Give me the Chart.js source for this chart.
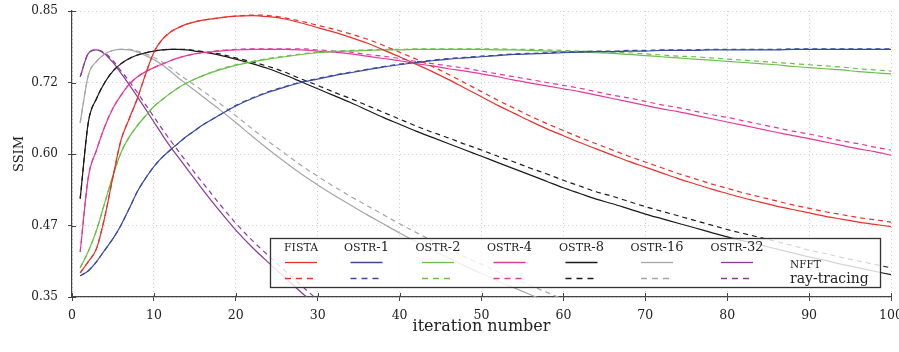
<!DOCTYPE html>
<html><head><meta charset="utf-8">
<script src="https://cdn.jsdelivr.net/npm/chart.js@4"></script>
<style>html,body{margin:0;padding:0;background:#fff;}canvas{display:block}</style>
</head><body>
<canvas id="c" width="899" height="352"></canvas>
<script>
const iterations = [1,2,3,4,5,6,7,8,9,10,11,12,13,14,15,16,18,20,22,24,26,28,30,32,34,36,38,40,42,44,46,48,50,52,54,56,58,60,62,64,66,68,70,72,74,76,78,80,82,84,86,88,90,92,94,96,98,100];

const fistaNFFT = [0.392,0.412,0.435,0.490,0.560,0.625,0.662,0.698,0.740,0.778,0.800,0.813,0.821,0.827,0.831,0.834,
 0.838,0.841,0.842,0.840,0.836,0.829,0.821,0.813,0.804,0.794,0.782,0.770,0.757,0.744,0.730,0.715,0.700,0.685,0.671,0.657,0.644,0.632,0.620,0.609,0.598,0.587,0.577,0.567,0.557,0.548,0.539,0.531,0.523,0.516,0.509,0.503,0.497,0.491,0.486,0.481,0.477,0.473];
const fistaRay = [0.392,0.412,0.435,0.490,0.560,0.625,0.662,0.698,0.740,0.778,0.800,0.813,0.821,0.827,0.831,0.834,
 0.838,0.841,0.843,0.842,0.838,0.832,0.825,0.818,0.810,0.801,0.790,0.778,0.766,0.753,0.739,0.724,0.709,0.694,0.680,0.666,0.653,0.641,0.629,0.618,0.607,0.596,0.586,0.576,0.566,0.557,0.548,0.540,0.532,0.525,0.518,0.511,0.505,0.499,0.494,0.489,0.485,0.481];

const ostr1NFFT = [0.387,0.396,0.412,0.432,0.452,0.476,0.505,0.535,0.558,0.578,0.594,0.607,0.619,0.631,0.641,0.651,
 0.668,0.684,0.697,0.708,0.717,0.725,0.731,0.737,0.742,0.747,0.752,0.756,0.760,0.763,0.766,0.768,0.770,0.772,0.774,0.775,0.776,0.777,0.778,0.779,0.779,0.780,0.780,0.781,0.781,0.781,0.782,0.782,0.782,0.782,0.782,0.783,0.783,0.783,0.783,0.783,0.783,0.783];
const ostr1Ray = [0.387,0.396,0.412,0.432,0.452,0.476,0.505,0.535,0.558,0.578,0.594,0.607,0.619,0.631,0.641,0.651,
 0.668,0.685,0.698,0.709,0.718,0.726,0.732,0.738,0.743,0.748,0.753,0.757,0.761,0.764,0.767,0.769,0.771,0.773,0.775,0.776,0.777,0.778,0.779,0.780,0.780,0.781,0.781,0.782,0.782,0.782,0.783,0.783,0.783,0.783,0.783,0.784,0.784,0.784,0.784,0.784,0.784,0.784];

const ostr2NFFT = [0.401,0.430,0.467,0.515,0.562,0.603,0.630,0.650,0.667,0.683,0.695,0.706,0.716,0.724,0.731,0.737,
 0.747,0.755,0.761,0.766,0.770,0.774,0.777,0.779,0.780,0.781,0.782,0.782,0.783,0.783,0.783,0.783,0.783,0.782,0.782,0.781,0.780,0.779,0.778,0.777,0.776,0.774,0.772,0.770,0.768,0.766,0.764,0.762,0.760,0.758,0.756,0.753,0.751,0.749,0.747,0.744,0.742,0.740];
const ostr2Ray = [0.401,0.430,0.467,0.515,0.562,0.603,0.630,0.650,0.667,0.683,0.695,0.706,0.716,0.724,0.731,0.737,
 0.748,0.756,0.762,0.767,0.771,0.775,0.778,0.780,0.781,0.782,0.783,0.783,0.784,0.784,0.784,0.784,0.784,0.784,0.783,0.783,0.782,0.781,0.780,0.779,0.778,0.777,0.775,0.773,0.771,0.770,0.768,0.766,0.764,0.762,0.760,0.758,0.756,0.754,0.752,0.749,0.747,0.745];

const ostr4NFFT = [0.429,0.560,0.607,0.648,0.680,0.703,0.722,0.735,0.744,0.751,0.757,0.763,0.768,0.772,0.775,0.777,
 0.780,0.782,0.783,0.783,0.783,0.782,0.780,0.778,0.775,0.771,0.767,0.763,0.758,0.754,0.749,0.745,0.740,0.735,0.729,0.724,0.719,0.714,0.709,0.703,0.697,0.691,0.685,0.679,0.674,0.668,0.662,0.656,0.650,0.644,0.638,0.632,0.627,0.621,0.615,0.609,0.604,0.598];
const ostr4Ray = [0.429,0.560,0.607,0.648,0.680,0.703,0.722,0.735,0.744,0.751,0.757,0.763,0.768,0.772,0.775,0.777,
 0.781,0.783,0.784,0.784,0.784,0.784,0.782,0.780,0.778,0.774,0.771,0.767,0.762,0.758,0.754,0.750,0.745,0.740,0.735,0.730,0.725,0.720,0.715,0.709,0.703,0.698,0.692,0.686,0.681,0.675,0.669,0.664,0.658,0.652,0.646,0.640,0.635,0.629,0.623,0.618,0.612,0.607];

const ostr8NFFT = [0.522,0.656,0.697,0.725,0.745,0.758,0.767,0.773,0.777,0.780,0.782,0.783,0.783,0.782,0.780,0.778,
 0.773,0.766,0.758,0.749,0.738,0.726,0.714,0.702,0.690,0.677,0.664,0.652,0.640,0.629,0.618,0.607,0.596,0.585,0.574,0.563,0.552,0.541,0.531,0.521,0.513,0.504,0.495,0.487,0.479,0.471,0.463,0.455,0.448,0.441,0.434,0.427,0.420,0.414,0.407,0.401,0.395,0.389];
const ostr8Ray = [0.522,0.656,0.697,0.725,0.745,0.758,0.767,0.773,0.777,0.780,0.782,0.783,0.783,0.783,0.781,0.779,
 0.775,0.768,0.761,0.753,0.743,0.731,0.720,0.708,0.697,0.685,0.673,0.661,0.649,0.638,0.628,0.617,0.607,0.596,0.586,0.575,0.565,0.554,0.544,0.534,0.526,0.517,0.508,0.500,0.492,0.484,0.476,0.468,0.461,0.454,0.447,0.440,0.432,0.426,0.419,0.413,0.407,0.401];

const ostr16NFFT = [0.655,0.738,0.762,0.775,0.781,0.783,0.782,0.778,0.772,0.765,0.756,0.745,0.733,0.722,0.711,0.700,
 0.678,0.655,0.631,0.608,0.586,0.565,0.546,0.528,0.511,0.494,0.478,0.462,0.447,0.432,0.418,0.404,0.391,0.378,0.366,0.354,0.342,0.331,0.320,0.310];
const ostr16Ray = [0.655,0.738,0.762,0.775,0.781,0.783,0.783,0.780,0.775,0.769,0.761,0.751,0.740,0.730,0.720,0.710,
 0.689,0.667,0.644,0.622,0.601,0.580,0.561,0.543,0.526,0.510,0.494,0.478,0.463,0.448,0.434,0.420,0.407,0.394,0.382,0.370,0.358,0.346,0.335,0.325];

const ostr32NFFT = [0.735,0.776,0.782,0.775,0.760,0.741,0.721,0.700,0.678,0.656,0.634,0.613,0.594,0.575,0.556,0.537,
 0.501,0.467,0.437,0.410,0.384,0.358,0.334,0.311,0.290];
const ostr32Ray = [0.735,0.776,0.782,0.777,0.763,0.745,0.727,0.707,0.686,0.665,0.644,0.624,0.605,0.586,0.567,0.549,
 0.513,0.479,0.449,0.422,0.396,0.370,0.345,0.322,0.300];

const seriesNames = ['FISTA','OSTR-1','OSTR-2','OSTR-4','OSTR-8','OSTR-16','OSTR-32'];
const methodNames = ['NFFT','ray-tracing'];
const xTicks = [0,10,20,30,40,50,60,70,80,90,100];
const yTickValues = [0.35,0.475,0.6,0.725,0.85];
const yTickLabels = ['0.35','0.47','0.60','0.72','0.85'];

const colors = ['#e8312b','#3a4a9f','#6abf4b','#e23a9b','#1a1a1a','#a6a6a6','#8b3a98'];
const nfftSeries = [fistaNFFT,ostr1NFFT,ostr2NFFT,ostr4NFFT,ostr8NFFT,ostr16NFFT,ostr32NFFT];
const raySeries = [fistaRay,ostr1Ray,ostr2Ray,ostr4Ray,ostr8Ray,ostr16Ray,ostr32Ray];

const toPts = vals => vals.map((v,i)=>({x:iterations[i], y:v}));
const datasets = [];
seriesNames.forEach((n,i)=>{
  datasets.push({label:n+' '+methodNames[1], data:toPts(raySeries[i]), borderColor:colors[i], borderDash:[5,4], borderWidth:1.2});
  datasets.push({label:n+' '+methodNames[0], data:toPts(nfftSeries[i]), borderColor:colors[i], borderWidth:1.2});
});

const FONT = "'DejaVu Serif', serif";

const innerTicks = {
  id:'innerTicks',
  afterDatasetsDraw(chart){
    const {ctx, chartArea:a, scales:{x,y}} = chart;
    ctx.save(); ctx.strokeStyle='#444'; ctx.lineWidth=1; ctx.beginPath();
    xTicks.forEach(v=>{const px=Math.round(x.getPixelForValue(v))+0.5; ctx.moveTo(px,a.bottom); ctx.lineTo(px,a.bottom-4);});
    yTickValues.forEach(v=>{const py=Math.round(y.getPixelForValue(v))+0.5; ctx.moveTo(a.left,py); ctx.lineTo(a.left+4,py);});
    ctx.stroke(); ctx.restore();
  }
};

function drawSmallCaps(ctx, text, cx, baseline, capSize, fullSize){
  const m = text.match(/^([A-Z]+)(.*)$/);
  const a = m[1], b = m[2];
  ctx.font = capSize+'px '+FONT; const wa = ctx.measureText(a).width;
  ctx.font = fullSize+'px '+FONT; const wb = b ? ctx.measureText(b).width : 0;
  let x0 = cx - (wa+wb)/2;
  ctx.textAlign='left'; ctx.textBaseline='alphabetic';
  ctx.font = capSize+'px '+FONT; ctx.fillText(a, x0, baseline);
  if (b){ ctx.font = fullSize+'px '+FONT; ctx.fillText(b, x0+wa, baseline); }
}

const legendBox = {
  id:'legendBox',
  afterDraw(chart){
    const ctx = chart.ctx;
    const centers = [301,366.5,438,509.5,581.5,657,737];
    ctx.save();
    ctx.fillStyle='rgba(255,255,255,0.82)';
    ctx.fillRect(270.5,238.5,610,49);
    ctx.strokeStyle='#333'; ctx.lineWidth=1.3;
    ctx.strokeRect(270.5,238.5,610,49);
    centers.forEach((cx,i)=>{
      ctx.fillStyle='#222';
      drawSmallCaps(ctx, seriesNames[i], cx, 251, 11, 13);
      ctx.strokeStyle=colors[i]; ctx.lineWidth=1.3;
      ctx.setLineDash([]);
      ctx.beginPath(); ctx.moveTo(cx-16,262.5); ctx.lineTo(cx+16,262.5); ctx.stroke();
      ctx.setLineDash([6,5]);
      ctx.beginPath(); ctx.moveTo(cx-16,278.5); ctx.lineTo(cx+16,278.5); ctx.stroke();
    });
    ctx.setLineDash([]);
    ctx.fillStyle='#222';
    ctx.textAlign='left'; ctx.textBaseline='alphabetic';
    ctx.font='10.5px '+FONT; ctx.fillText(methodNames[0], 790, 267.5);
    ctx.font='14px '+FONT; ctx.fillText(methodNames[1], 790, 282.5);
    ctx.restore();
  }
};

new Chart(document.getElementById('c').getContext('2d'), {
  type:'line',
  data:{datasets},
  options:{
    responsive:false, animation:false, devicePixelRatio:1,
    layout:{padding:{top:11,right:8,left:0,bottom:0}},
    plugins:{legend:{display:false}, tooltip:{enabled:false}},
    elements:{point:{radius:0}, line:{borderWidth:1.2, cubicInterpolationMode:'monotone'}},
    scales:{
      x:{
        type:'linear', min:0, max:100,
        afterBuildTicks:s=>{s.ticks = xTicks.map(v=>({value:v}));},
        afterFit:s=>{s.height=55; s.paddingLeft=0; s.paddingRight=0;},
        grid:{color:'#cfcfcf', lineWidth:1, tickColor:'#444', tickLength:4, tickWidth:1},
        border:{display:true, color:'#444', width:1.2, dash:[1,3]},
        ticks:{color:'#222', font:{family:FONT,size:12.5}, padding:7, maxRotation:0, autoSkip:false},
        title:{display:true, text:'iteration number', color:'#222', font:{family:FONT,size:16}, padding:{top:0,bottom:16}}
      },
      y:{
        type:'linear', min:0.35, max:0.85,
        afterBuildTicks:s=>{s.ticks = yTickValues.map(v=>({value:v}));},
        afterFit:s=>{s.width=72; s.paddingTop=0; s.paddingBottom=0;},
        grid:{color:'#cfcfcf', lineWidth:1, tickColor:'#444', tickLength:4, tickWidth:1},
        border:{display:true, color:'#444', width:1.2, dash:[1,3]},
        ticks:{color:'#222', font:{family:FONT,size:12}, padding:10, callback:(v,i)=>yTickLabels[i]},
        title:{display:true, text:'SSIM', color:'#222', font:{family:FONT,size:13}, padding:{top:12,bottom:0}}
      }
    }
  },
  plugins:[innerTicks, legendBox]
});
</script>
</body></html>
